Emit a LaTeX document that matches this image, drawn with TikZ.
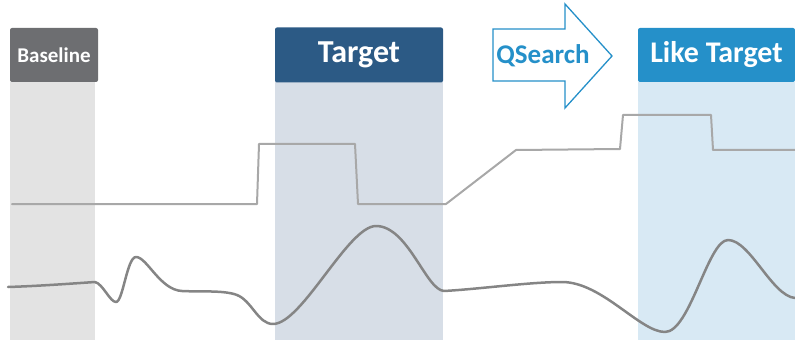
\documentclass[tikz,border=0pt]{standalone}
\usepackage{fontspec}
\setmainfont{Carlito}
\definecolor{slate}{HTML}{6D6E71}
\definecolor{navy}{HTML}{2C5A85}
\definecolor{sky}{HTML}{2590C9}
\definecolor{bandgray}{HTML}{E3E3E3}
\definecolor{bandnavy}{HTML}{D7DEE7}
\definecolor{bandsky}{HTML}{D8E9F4}
\definecolor{stepgray}{HTML}{A8A8A8}
\definecolor{wavegray}{HTML}{858585}

\begin{document}
\begin{tikzpicture}[x=1pt,y=-1pt,
    tab/.style={rounded corners=2pt, inner sep=0pt, text=white, font=\bfseries},
    sigline/.style={line join=round, line cap=round}]
        \useasboundingbox (0,0) rectangle (795,342);
        % shaded windows
        \fill[bandgray] (10,82) rectangle (95,340);
        \fill[bandnavy] (275,82) rectangle (443,340);
        \fill[bandsky] (638,82) rectangle (795,340);
        % window headers
        \node[tab, fill=slate, minimum width=88pt, minimum height=54pt,
          font=\bfseries\fontsize{21}{21}\selectfont] (base) at (54,55) {Baseline};
        \node[tab, fill=navy, minimum width=168pt, minimum height=55pt,
          font=\bfseries\fontsize{32}{32}\selectfont] (target) at (359,55) {Target};
        \node[tab, fill=sky, minimum width=157pt, minimum height=54pt,
          font=\bfseries\fontsize{30}{30}\selectfont] (like) at (716.5,55) {Like Target};
        % search arrow
        \draw[sky, line width=1.3pt, fill=white, line join=miter]
          (493,29) -- (565,29) -- (565,4) -- (612,56) -- (565,108)
          -- (565,81) -- (493,81) -- cycle;
        \node[text=sky, font=\bfseries\fontsize{27}{27}\selectfont] (qsearch) at (543,56) {QSearch};
        % step signal
        \draw[sigline, stepgray, line width=2pt]
          (12,204) -- (257,204) -- (259,144) -- (355,144) -- (358,204)
          -- (446,204) -- (516,150) -- (620,149) -- (623,115)
          -- (711,115) -- (713,150) -- (795,150);
        % response signal
        \draw[sigline, wavegray, line width=2.5pt]
          (8,287) .. controls (40,286) and (80,283) .. (95,282)
          .. controls (103,284) and (110,302) .. (116,302)
          .. controls (123,302) and (127,257) .. (136,257)
          .. controls (147,257) and (160,290) .. (182,291)
          .. controls (200,292) and (224,290) .. (237,295)
          .. controls (252,301) and (258,324) .. (273,324)
          .. controls (302,324) and (348,226) .. (376,226)
          .. controls (408,226) and (426,290) .. (444,291)
          .. controls (480,289) and (530,282) .. (562,282)
          .. controls (602,282) and (640,332) .. (665,332)
          .. controls (690,332) and (708,240) .. (728,240)
          .. controls (750,240) and (772,296) .. (795,298);
      \end{tikzpicture}
\end{document}
